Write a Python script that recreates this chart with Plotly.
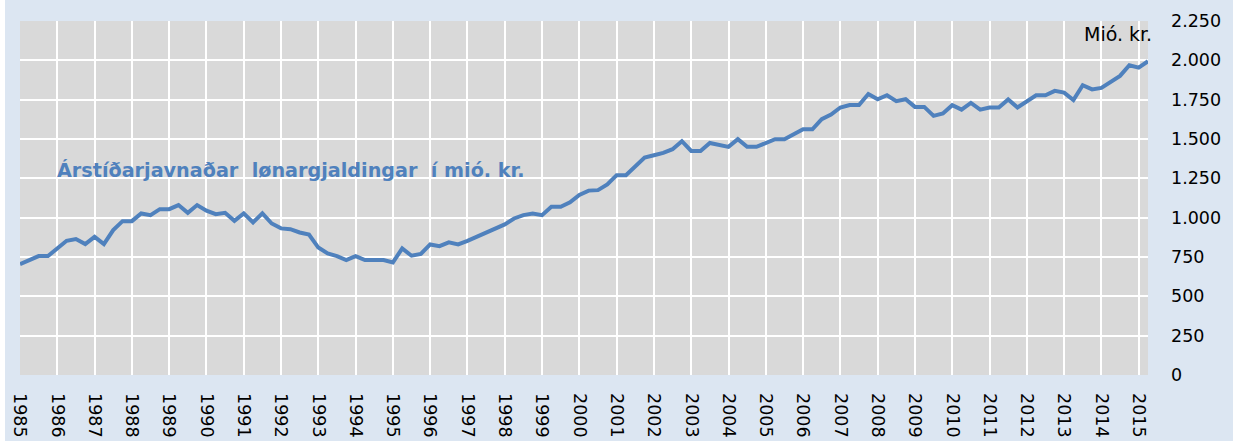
"""Árstíðarjavnaðar lønargjaldingar — Plotly line chart."""

import plotly.graph_objects as go

BLUE = "#4f81bd"
PAPER = "#dce6f2"
PLOT_BG = "#d9d9d9"
FONT = "'DejaVu Sans', sans-serif"

# quarterly values 1985Q1 .. 2015Q2, mió. kr.
y1985_1994 = [
    705, 730, 756, 756,
    804, 853, 864, 832,
    878, 832, 921, 978,
    978, 1027, 1016, 1054,
    1054, 1080, 1031, 1080,
    1044, 1022, 1031, 980,
    1027, 970, 1027, 963,
    932, 927, 906, 893,
    810, 773, 756, 731,
    756, 731, 731, 731,
]
y1995_2004 = [
    716, 804, 758, 769,
    830, 819, 843, 830,
    853, 878, 906, 932,
    957, 995, 1016, 1027,
    1016, 1069, 1069, 1097,
    1145, 1172, 1175, 1211,
    1270, 1270, 1327, 1382,
    1397, 1412, 1435, 1486,
    1424, 1424, 1475, 1461,
    1450, 1499, 1450, 1450,
]
y2005_2015 = [
    1478, 1499, 1499, 1530,
    1562, 1562, 1626, 1655,
    1700, 1716, 1716, 1786,
    1752, 1778, 1740, 1753,
    1704, 1704, 1647, 1662,
    1715, 1687, 1729, 1687,
    1700, 1700, 1751, 1700,
    1740, 1778, 1778, 1806,
    1795, 1747, 1842, 1815,
    1825, 1863, 1901, 1969,
    1954, 1994,
]
values = y1985_1994 + y1995_2004 + y2005_2015
quarters = list(range(len(values)))
years = [str(y) for y in range(1985, 2016)]
year_pos = [4 * i for i in range(len(years))]
y_ticks = [0, 250, 500, 750, 1000, 1250, 1500, 1750, 2000, 2250]
y_labels = ["0", "250", "500", "750", "1.000", "1.250", "1.500", "1.750", "2.000", "2.250"]

NB = "\u00a0"
label = f"Árstíðarjavnaðar{NB}{NB}lønargjaldingar{NB}{NB}í mió. kr."

fig = go.Figure()
fig.add_trace(go.Scatter(
    x=quarters, y=values, mode="lines",
    line=dict(color=BLUE, width=4),
    hoverinfo="skip", showlegend=False,
))

fig.update_layout(
    width=1228, height=441,
    margin=dict(l=14.5, r=85, t=21, b=65.5),
    paper_bgcolor=PAPER, plot_bgcolor=PLOT_BG,
    font=dict(family=FONT, color="#000000"),
    xaxis=dict(
        range=[0, len(values) - 1], tickvals=year_pos, ticktext=years,
        tickangle=90, tickfont=dict(size=17.5), automargin=False,
        showgrid=True, gridcolor="white", gridwidth=2,
        zeroline=False, showline=False, ticks="", ticklabelstandoff=17,
    ),
    yaxis=dict(
        range=[0, 2250], side="right", tickvals=y_ticks, ticktext=y_labels,
        tickfont=dict(size=17.5), automargin=False,
        showgrid=True, gridcolor="white", gridwidth=2,
        zeroline=False, showline=False, ticks="", ticklabelstandoff=22,
    ),
    annotations=[
        dict(text=label, xref="paper", yref="paper", x=0.031, y=0.577,
             xanchor="left", yanchor="middle", showarrow=False,
             font=dict(size=19.2, color=BLUE, weight="bold")),
        dict(text="Mió. kr.", xref="paper", yref="paper", x=1.0, y=1.0,
             xanchor="right", yanchor="top", xshift=6, showarrow=False,
             font=dict(size=19, color="#000000")),
    ],
)

fig.write_html("out.html", post_script="document.body.style.margin='0 0 0 5px';")
